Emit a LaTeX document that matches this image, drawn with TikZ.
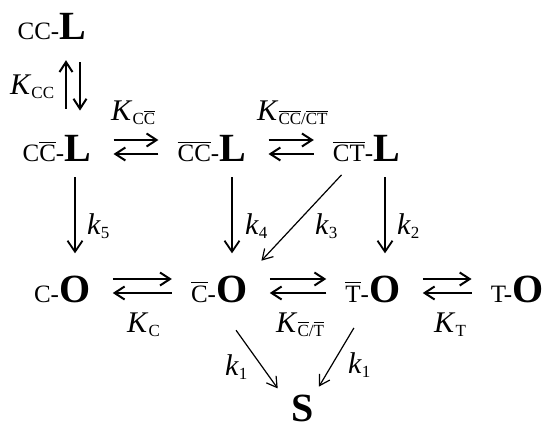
\documentclass[tikz,border=0pt]{standalone}
\usepackage{fontspec}
\setmainfont{Liberation Serif}
\usetikzlibrary{arrows.meta}

% bar over a group of letters
\newcommand{\ovl}[1]{\vbox{\hrule height .05em\kern .09em\hbox{#1}}}
% constant with a subscript
\newcommand{\rconst}[2]{\textit{#1}\raisebox{-4pt}{\fontsize{17}{17}\selectfont #2}}

\begin{document}
\begin{tikzpicture}[x=1pt,y=-1pt,
        pfx/.style={font=\fontsize{25}{27}\selectfont,inner sep=0pt,anchor=base east},
        big/.style={font=\fontsize{40}{44}\selectfont\bfseries,inner sep=0pt,anchor=base},
        lbl/.style={font=\fontsize{30}{32}\selectfont,inner sep=0pt,anchor=base west},
        eq/.style={line width=2pt,-{Straight Barb[length=10pt,width=13pt]},shorten <=22pt,shorten >=19pt},
        eqback/.style={eq,shorten <=19pt,shorten >=22pt},
        kar/.style={line width=1.8pt,-{Straight Barb[length=11pt,width=15pt]}},
        kthin/.style={line width=1.2pt,-{Straight Barb[length=10pt,width=12pt]}}]
    \useasboundingbox (0,0) rectangle (545,430);

    % Top
    \node[big] (ccL) at (73,40) {L};
    \node[pfx] (ccLp) at (ccL.base west) {CC-};

    % L row
    \node[big] (ccbL) at (78,162) {L};
    \node[pfx] (ccbLp) at (ccbL.base west) {C\ovl{C}-};
    \node[big] (cbcbL) at (233,162) {L};
    \node[pfx] (cbcbLp) at (cbcbL.base west) {\ovl{CC}-};
    \node[big] (cbtL) at (387,162) {L};
    \node[pfx] (cbtLp) at (cbtL.base west) {\ovl{CT}-};

    % O row
    \node[big] (cO) at (75,302) {O};
    \node[pfx] (cOp) at (cO.base west) {C-};
    \node[big] (cbO) at (232,302) {O};
    \node[pfx] (cbOp) at (cbO.base west) {\ovl{C}-};
    \node[big] (tbO) at (385,302) {O};
    \node[pfx] (tbOp) at (tbO.base west) {\ovl{T}-};
    \node[big] (tO) at (528,302) {O};
    \node[pfx] (tOp) at (tO.base west) {T-};

    % Bottom
    \node[big] (S) at (303,421) {S};

    % Labels
    \node[lbl] (Kcc) at (10,95) {\rconst{K}{CC}};
    \node[lbl] (Kccb) at (111,121) {\rconst{K}{C\ovl{C}}};
    \node[lbl] (Kcbcb) at (257,121) {\rconst{K}{\ovl{CC}/\ovl{CT}}};
    \node[lbl] (k5) at (87,234) {\rconst{k}{5}};
    \node[lbl] (k4) at (245,234) {\rconst{k}{4}};
    \node[lbl] (k3) at (315,234) {\rconst{k}{3}};
    \node[lbl] (k2) at (397,234) {\rconst{k}{2}};
    \node[lbl] (Kc) at (127,332) {\rconst{K}{C}};
    \node[lbl] (Kcbtb) at (276,332) {\rconst{K}{\ovl{C}/\ovl{T}}};
    \node[lbl] (Kt) at (434,332) {\rconst{K}{T}};
    \node[lbl] (k1a) at (225,375) {\rconst{k}{1}};
    \node[lbl] (k1b) at (348,373) {\rconst{k}{1}};

    % Equilibria
    \draw[eq,shorten <=27pt,shorten >=20pt] ([xshift=-12pt]ccbL.north) -- ([xshift=-7pt]ccL.south);
    \draw[eq,shorten <=22pt,shorten >=25pt] ([xshift=7pt]ccL.south) -- ([xshift=2pt]ccbL.north);
    \draw[eq] ([yshift=22pt]ccbL.base east) -- ([yshift=22pt]cbcbLp.base west);
    \draw[eqback] ([yshift=8pt]cbcbLp.base west) -- ([yshift=8pt]ccbL.base east);
    \draw[eq] ([yshift=22pt]cbcbL.base east) -- ([yshift=22pt]cbtLp.base west);
    \draw[eqback] ([yshift=8pt]cbtLp.base west) -- ([yshift=8pt]cbcbL.base east);
    \draw[eq] ([yshift=23pt]cO.base east) -- ([yshift=23pt]cbOp.base west);
    \draw[eqback] ([yshift=9pt]cbOp.base west) -- ([yshift=9pt]cO.base east);
    \draw[eq] ([yshift=23pt]cbO.base east) -- ([yshift=23pt]tbOp.base west);
    \draw[eqback] ([yshift=9pt]tbOp.base west) -- ([yshift=9pt]cbO.base east);
    \draw[eq] ([yshift=23pt]tbO.base east) -- ([yshift=23pt]tOp.base west);
    \draw[eqback] ([yshift=9pt]tOp.base west) -- ([yshift=9pt]tbO.base east);

    % Rates
    \draw[kar,shorten <=15pt,shorten >=22pt] (cO.north |- ccbL.south) -- (cO.north);
    \draw[kar,shorten <=15pt,shorten >=22pt] (cbO.north |- cbcbL.south) -- (cbO.north);
    \draw[kar,shorten <=15pt,shorten >=22pt] (tbO.north |- cbtL.south) -- (tbO.north);
    \draw[kthin,shorten <=17pt,shorten >=20pt] (cbtLp.south) -- (cbO.north east);
    \draw[kthin,shorten <=34pt,shorten >=24pt] (cbO.south west) -- (S.west);
    \draw[kthin,shorten <=30pt,shorten >=9pt] (tbOp.south east) -- (S.north east);
\end{tikzpicture}
\end{document}
